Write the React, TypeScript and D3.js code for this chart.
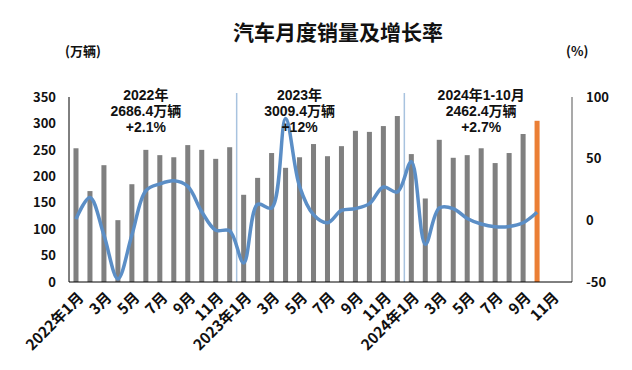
import { useEffect, useRef } from 'react'
import * as d3 from 'd3'

// months shown on the axis (2022-01 .. 2024-12)
const months: string[] = []
for (const y of [2022, 2023, 2024]) {
  for (let m = 1; m <= 12; m++) months.push(`${y}-${m}`)
}

// monthly sales (万辆), 2022-01 .. 2024-10
const sales = [
  253, 172, 221, 117, 185, 250, 240, 236, 259, 250, 233, 255,
  165, 197, 244, 216, 236, 261, 238, 257, 286, 284, 295, 314,
  242, 158, 269, 235, 240, 253, 225, 244, 280, 305,
]

// year-on-year growth (%)
const growth = [
  1, 18.5, -12, -47.5, -12, 24, 29.5, 32, 27.5, 7, -8, -8.5,
  -34.5, 13, 10, 82.5, 27.5, 4.5, -2, 8, 9.5, 13.5, 27, 23,
  47.5, -19.5, 10, 9.5, 1.5, -3, -5.2, -5, -2, 6.5,
]

const leftTicks = [0, 50, 100, 150, 200, 250, 300, 350]
const rightTicks = [-50, 0, 50, 100]

// year notes above the bars
const notes = [
  { month: '2022-6', lines: ['2022年', '2686.4万辆', '+2.1%'] },
  { month: '2023-5', lines: ['2023年', '3009.4万辆', '+12%'] },
  { month: '2024-6', lines: ['2024年1-10月', '2462.4万辆', '+2.7%'] },
]
// dividers between years
const dividers = ['2023-1', '2024-1']

const FONT = '"Noto Sans CJK SC", "Noto Sans", sans-serif'
// tighter line metrics for the stacked notes
const NOTE_FONT = '"Liberation Sans", "Noto Sans CJK SC", sans-serif'

const App = () => {
  const svgRef = useRef(null)
  const width = 632
  const height = 370
  const margin = { left: 69, right: 60, top: 97, bottom: 88 }

  useEffect(() => {
    document.body.style.margin = '0'
    const innerW = width - margin.left - margin.right
    const innerH = height - margin.top - margin.bottom

    const x = d3
      .scaleBand()
      .domain(months)
      .range([0, innerW])
      .paddingInner(0.64)
      .paddingOuter(0.32)
    const yLeft = d3.scaleLinear().domain([0, 350]).range([innerH, 0])
    const yRight = d3.scaleLinear().domain([-50, 100]).range([innerH, 0])

    const svgEl = d3.select(svgRef.current)
    svgEl.selectAll('*').remove()

    // title
    svgEl
      .append('text')
      .attr('x', 338)
      .attr('y', 40)
      .attr('text-anchor', 'middle')
      .style('font-family', FONT)
      .style('font-weight', '700')
      .style('font-size', '21px')
      .style('fill', '#111')
      .text('汽车月度销量及增长率')
    svgEl
      .append('text')
      .attr('x', 65)
      .attr('y', 56)
      .style('font-family', FONT)
      .style('font-weight', '700')
      .style('font-size', '13px')
      .style('fill', '#111')
      .text('(万辆)')
    svgEl
      .append('text')
      .attr('x', 566)
      .attr('y', 56)
      .style('font-family', FONT)
      .style('font-weight', '700')
      .style('font-size', '13px')
      .style('fill', '#111')
      .text('(%)')

    const svg = svgEl
      .append('g')
      .attr('transform', `translate(${margin.left},${margin.top})`)

    // year dividers
    dividers.forEach((m) => {
      const dx = x(m) - (x.step() * x.paddingInner()) / 2
      svg
        .append('line')
        .attr('x1', dx)
        .attr('x2', dx)
        .attr('y1', -4)
        .attr('y2', innerH)
        .attr('stroke', '#a8c3df')
        .attr('stroke-width', 1.5)
    })

    // bars
    svg
      .selectAll('.bar')
      .data(sales)
      .enter()
      .append('rect')
      .attr('x', (d, i) => x(months[i]))
      .attr('y', (d) => yLeft(d))
      .attr('width', x.bandwidth())
      .attr('height', (d) => innerH - yLeft(d))
      .attr('fill', (d, i) => (i === sales.length - 1 ? '#EB7F35' : '#808080'))

    // growth line
    const line = d3
      .line<number>()
      .x((d, i) => x(months[i]) + x.bandwidth() / 2)
      .y((d) => yRight(d))
      .curve(d3.curveCatmullRom.alpha(0.5))
    svg
      .append('path')
      .attr('fill', 'none')
      .attr('stroke', '#5b8ec6')
      .attr('stroke-width', 3.5)
      .attr('stroke-linejoin', 'round')
      .attr('d', line(growth))

    // axes lines
    svg
      .append('line')
      .attr('x1', 0)
      .attr('x2', 0)
      .attr('y1', 0)
      .attr('y2', innerH)
      .attr('stroke', '#000')
      .attr('stroke-width', 1)
    svg
      .append('line')
      .attr('x1', innerW)
      .attr('x2', innerW)
      .attr('y1', 0)
      .attr('y2', innerH)
      .attr('stroke', '#8c8c8c')
      .attr('stroke-width', 1.5)
    svg
      .append('line')
      .attr('x1', 0)
      .attr('x2', innerW)
      .attr('y1', innerH)
      .attr('y2', innerH)
      .attr('stroke', '#000')
      .attr('stroke-width', 1)

    // left ticks
    svg
      .selectAll('.ltick')
      .data(leftTicks)
      .enter()
      .append('text')
      .attr('x', -13)
      .attr('y', (d) => yLeft(d))
      .attr('dy', '0.36em')
      .attr('text-anchor', 'end')
      .style('font-family', FONT)
      .style('font-weight', '700')
      .style('font-size', '13px')
      .style('fill', '#111')
      .text((d) => d)

    // right ticks
    svg
      .selectAll('.rtick')
      .data(rightTicks)
      .enter()
      .append('text')
      .attr('x', innerW + 14)
      .attr('y', (d) => yRight(d))
      .attr('dy', '0.36em')
      .attr('text-anchor', 'start')
      .style('font-family', FONT)
      .style('font-weight', '700')
      .style('font-size', '13px')
      .style('fill', '#111')
      .text((d) => d)

    // x labels every two months
    const labelMonths = months.filter((m, i) => i % 2 === 0)
    svg
      .selectAll('.xlab')
      .data(labelMonths)
      .enter()
      .append('text')
      .attr(
        'transform',
        (d) => `translate(${x(d) + x.bandwidth() / 2 + 5},${innerH + 13}) rotate(-45)`
      )
      .attr('text-anchor', 'end')
      .attr('dy', '0.35em')
      .style('font-family', FONT)
      .style('font-weight', '700')
      .style('font-size', '15px')
      .style('fill', '#111')
      .text((d) => {
        const [yy, mm] = d.split('-')
        return mm === '1' ? `${yy}年1月` : `${mm}月`
      })

    // year notes, three lines each
    notes.forEach((n) => {
      const cx = x(n.month) + x.bandwidth() / 2
      n.lines.forEach((t, k) => {
        svg
          .append('text')
          .attr('x', cx)
          .attr('y', 3 + k * 16)
          .attr('text-anchor', 'middle')
          .style('font-family', NOTE_FONT)
          .style('font-weight', '700')
          .style('font-size', '14px')
          .style('fill', '#111')
          .text(t)
      })
    })
  }, [])

  return <svg ref={svgRef} width={width} height={height} style={{ display: 'block' }} />
}

export default App
